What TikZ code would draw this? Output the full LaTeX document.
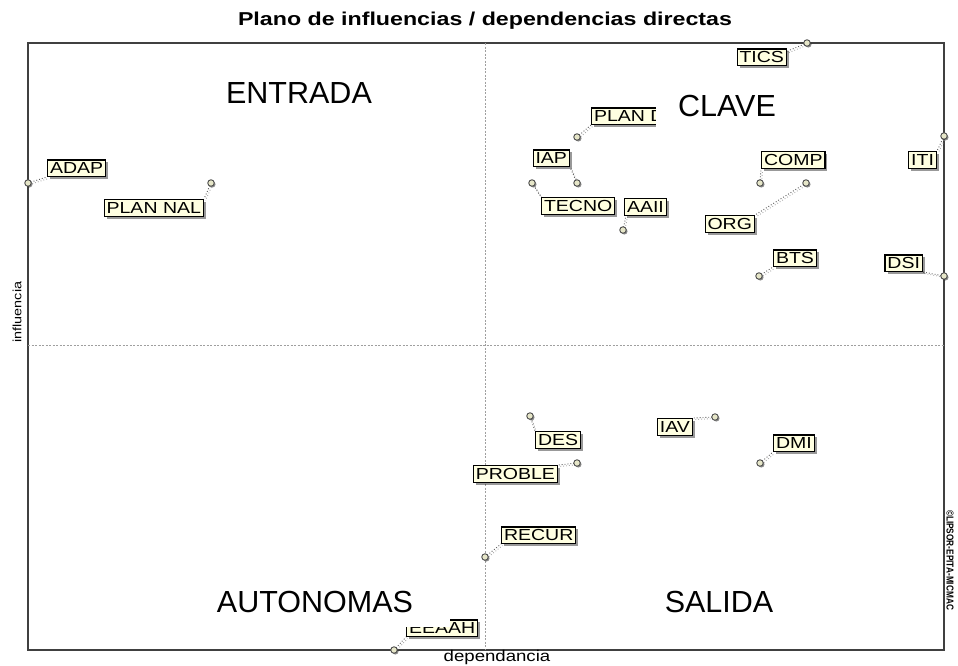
\documentclass[tikz,border=0pt]{standalone}
\usepackage{fontspec}
\setmainfont{Liberation Sans}
\newfontfamily\lblfont[FakeStretch=1.22]{Liberation Sans}
\newfontfamily\axfont[FakeStretch=1.2]{Liberation Sans}
\usetikzlibrary{shadows}
\pgfdeclarelayer{bg}
\pgfdeclarelayer{top}
\pgfsetlayers{bg,main,top}
\definecolor{lblfill}{HTML}{FFFFE1}
\definecolor{ptfill}{HTML}{E6E6C8}
\definecolor{framec}{HTML}{404040}
\newcommand\leaderline[4]{%
  \draw[ldshadow] ([shift={(1.5,1.5)}]#1) -- ([shift={(#3+1.5,#4+1.5)}]#2);
  \draw[ld] (#1) -- ([shift={(#3,#4)}]#2);}
\begin{document}
\begin{tikzpicture}[x=1pt,y=-1pt,
  lbl/.style={draw=black, line width=1.2pt, fill=lblfill,
    font=\lblfont\fontsize{16}{16}\selectfont, inner xsep=2.4pt, inner ysep=2.5pt,
    text height=11.5pt, text depth=0pt,
    drop shadow={shadow xshift=2.5pt, shadow yshift=-2.5pt, fill=black, opacity=.4}},
  pt/.style={circle, draw=gray!60!black, fill=ptfill, line width=.9pt, inner sep=0pt,
    minimum size=6.5pt,
    drop shadow={shadow xshift=1.3pt, shadow yshift=-1.3pt, fill=black, opacity=.45}},
  ld/.style={draw=gray!70!black, dotted, line width=.9pt},
  ldshadow/.style={draw=gray!65, dotted, line width=.9pt},
  quad/.style={font=\fontsize{30.5}{30.5}\selectfont, inner sep=0pt, anchor=base},
  midline/.style={draw=gray!75, line width=.7pt, dash pattern=on 2pt off 1.5pt},
  framestyle/.style={draw=framec, line width=1.2pt}]
\useasboundingbox (0,0) rectangle (958,665);

% points
\node[pt] (pTICS) at (807,43) {};
\node[pt] (pPLAND) at (577,137) {};
\node[pt] (pIAP) at (577,183) {};
\node[pt] (pTECNO) at (532,183) {};
\node[pt] (pAAII) at (623,230) {};
\node[pt] (pCOMP) at (760,183) {};
\node[pt] (pORG) at (806,183) {};
\node[pt] (pBTS) at (759,276) {};
\node[pt] (pITI) at (944,136) {};
\node[pt] (pDSI) at (944,276) {};
\node[pt] (pADAP) at (28,183) {};
\node[pt] (pPLANNAL) at (211,183) {};
\node[pt] (pDES) at (530,416) {};
\node[pt] (pIAV) at (715,417) {};
\node[pt] (pDMI) at (760,463) {};
\node[pt] (pPROBLE) at (577,463) {};
\node[pt] (pRECUR) at (485,557) {};
\node[pt] (pEEAAH) at (394,650) {};

% labels
\node[lbl, anchor=south east] (TICS) at (787,66) {TICS};
\node[lbl, anchor=south west] (PLAND) at (591,125) {PLAN D};
\node[lbl, anchor=south east] (IAP) at (570,167) {IAP};
\node[lbl, anchor=north west] (TECNO) at (541,197) {TECNO};
\node[lbl, anchor=north west] (AAII) at (624,198) {AAII};
\node[lbl, anchor=north west] (COMP) at (761,151) {COMP};
\node[lbl, anchor=north east] (ORG) at (755,215) {ORG};
\node[lbl, anchor=south west] (BTS) at (773,267) {BTS};
\node[lbl, anchor=north east] (ITI) at (937,151) {ITI};
\node[lbl, anchor=south east] (DSI) at (923,272) {DSI};
\node[lbl, anchor=south west] (ADAP) at (47,177) {ADAP};
\node[lbl, anchor=north east] (PLANNAL) at (204,199) {PLAN NAL};
\node[lbl, anchor=north west] (DES) at (535,431) {DES};
\node[lbl, anchor=north east] (IAV) at (693,418) {IAV};
\node[lbl, anchor=south west] (DMI) at (773,452) {DMI};
\node[lbl, anchor=north east] (PROBLE) at (558,465) {PROBLE};
\node[lbl, anchor=south west] (RECUR) at (501,544) {RECUR};
\node[lbl, anchor=south west] (EEAAH) at (406,637) {EEAAH};

% texts
\node[anchor=base, inner sep=0pt] (title) at (485,25)
  {\resizebox{494pt}{13.5pt}{\bfseries Plano de influencias / dependencias directas}};
\node[rotate=90, font=\axfont\fontsize{12}{12}\selectfont, inner sep=0pt] (ylab) at (17,312) {influencia};
\node[anchor=base, font=\axfont\fontsize{15.5}{15.5}\selectfont, inner sep=0pt] (xlab) at (497,661) {dependancia};
\node[rotate=-90, inner sep=0pt] (copy) at (950,560)
  {\resizebox{100pt}{7pt}{\bfseries ©LIPSOR-EPITA-MICMAC}};

\begin{pgfonlayer}{bg}
  \draw[framestyle] (28,43) rectangle (944,650);
  \draw[midline] (485,43) -- (485,650);
  \draw[midline] (28,345) -- (944,345);
  \leaderline{pTICS.center}{TICS.north east}{0}{3}
  \leaderline{pPLAND.center}{PLAND.south west}{0}{0}
  \leaderline{pIAP.center}{IAP.south east}{0}{0}
  \leaderline{pTECNO.center}{TECNO.north west}{0}{0}
  \leaderline{pAAII.center}{AAII.south west}{2}{0}
  \leaderline{pCOMP.center}{COMP.south west}{0}{0}
  \leaderline{pORG.center}{ORG.north east}{0}{0}
  \leaderline{pBTS.center}{BTS.south west}{0}{0}
  \leaderline{pITI.center}{ITI.north east}{0}{0}
  \leaderline{pDSI.center}{DSI.south east}{0}{0}
  \leaderline{pADAP.center}{ADAP.south west}{0}{0}
  \leaderline{pPLANNAL.center}{PLANNAL.north east}{0}{0}
  \leaderline{pDES.center}{DES.north west}{0}{0}
  \leaderline{pIAV.center}{IAV.north east}{0}{0}
  \leaderline{pDMI.center}{DMI.south west}{0}{0}
  \leaderline{pPROBLE.center}{PROBLE.north east}{0}{0}
  \leaderline{pRECUR.center}{RECUR.south west}{0}{0}
  \leaderline{pEEAAH.center}{EEAAH.south west}{0}{0}
\end{pgfonlayer}

\begin{pgfonlayer}{top}
  \fill[white] (656,86) rectangle (798,130);
  \fill[white] (205,585) rectangle (450,627);
  \node[quad] (entrada) at (299,103) {ENTRADA};
  \node[quad] (clave) at (727,116) {CLAVE};
  \node[quad] (autonomas) at (315,612) {AUTONOMAS};
  \node[quad] (salida) at (719,612) {SALIDA};
\end{pgfonlayer}
\end{tikzpicture}
\end{document}
